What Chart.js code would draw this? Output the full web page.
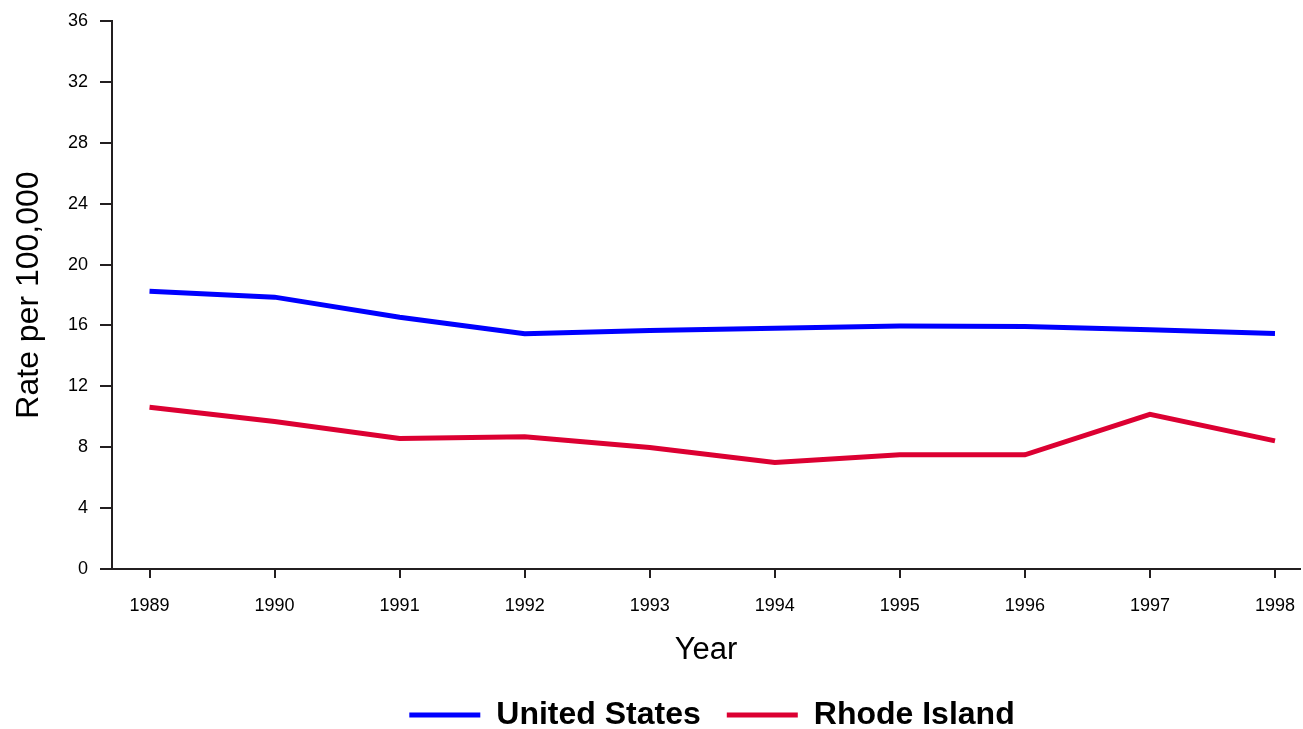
<!DOCTYPE html>
<html lang="en">
<head>
    <meta charset="UTF-8">
    <title>Rate per 100,000</title>
    <script src="https://cdn.jsdelivr.net/npm/chart.js"></script>
    <style>
        html, body { margin: 0; padding: 0; background: #fff; }
        .grafico { width: 1303px; height: 729px; }
    </style>
</head>
<body>
    <div class="grafico">
        <canvas id="graficoTaxa"></canvas>
    </div>
<script>
    const anos = [1989, 1990, 1991, 1992, 1993, 1994, 1995, 1996, 1997, 1998];
    const estadosUnidos = [18.25, 17.86, 16.54, 15.45, 15.66, 15.82, 15.96, 15.93, 15.71, 15.47];
    const rhodeIsland = [10.62, 9.69, 8.58, 8.69, 7.98, 7.0, 7.5, 7.5, 10.16, 8.42];
    const ticksY = [0, 4, 8, 12, 16, 20, 24, 28, 32, 36];

    const fonte = "'Liberation Sans', Arial, sans-serif";
    const corEixo = '#231f20';

    function pontos(valores) {
        return anos.map((a, i) => ({ x: a, y: valores[i] }));
    }

    // empurra a legenda para a direita e um pouco para baixo
    const moverLegenda = {
        id: 'moverLegenda',
        afterLayout(chart) {
            const lg = chart.legend;
            lg.left += 62;
            lg.right += 62;
            lg.top += 4;
            lg.bottom += 4;
        }
    };

    const ctx = document.getElementById('graficoTaxa').getContext('2d');
    new Chart(ctx, {
        type: 'line',
        data: {
            datasets: [
                {
                    label: 'United States',
                    data: pontos(estadosUnidos),
                    borderColor: '#0000ff',
                    backgroundColor: '#0000ff',
                    borderWidth: 5,
                    pointRadius: 0,
                    tension: 0
                },
                {
                    label: 'Rhode Island',
                    data: pontos(rhodeIsland),
                    borderColor: '#dc0032',
                    backgroundColor: '#dc0032',
                    borderWidth: 5,
                    pointRadius: 0,
                    tension: 0
                }
            ]
        },
        plugins: [moverLegenda],
        options: {
            responsive: true,
            maintainAspectRatio: false,
            animation: false,
            layout: { padding: { top: 21, right: 3, left: 0, bottom: -8 } },
            plugins: {
                tooltip: { enabled: false },
                legend: {
                    position: 'bottom',
                    labels: {
                        boxWidth: 71,
                        boxHeight: 5,
                        padding: 26,
                        color: '#000',
                        font: { family: fonte, size: 32, weight: 'bold' },
                        generateLabels: (chart) => {
                            const itens = Chart.defaults.plugins.legend.labels.generateLabels(chart);
                            itens.forEach(it => { it.lineWidth = 0; });
                            return itens;
                        }
                    }
                }
            },
            scales: {
                x: {
                    type: 'linear',
                    min: 1988.7,
                    max: 1998.2,
                    afterBuildTicks: (s) => { s.ticks = anos.map(v => ({ value: v })); },
                    afterFit: (s) => { s.height = 100; s.paddingLeft = 0; s.paddingRight = 0; },
                    grid: { drawOnChartArea: false, tickLength: 9, color: corEixo, lineWidth: 2 },
                    border: { color: corEixo, width: 2 },
                    ticks: {
                        color: '#000',
                        padding: 17,
                        maxRotation: 0,
                        font: { family: fonte, size: 18 },
                        callback: (v) => String(v)
                    },
                    title: {
                        display: true,
                        text: 'Year',
                        color: '#000',
                        padding: { top: 14, bottom: 0 },
                        font: { family: fonte, size: 31 }
                    }
                },
                y: {
                    min: 0,
                    max: 36,
                    afterBuildTicks: (s) => { s.ticks = ticksY.map(v => ({ value: v })); },
                    afterFit: (s) => { s.width = 112; s.paddingTop = 0; s.paddingBottom = 0; },
                    grid: { drawOnChartArea: false, tickLength: 12, color: corEixo, lineWidth: 2 },
                    border: { color: corEixo, width: 2 },
                    ticks: {
                        color: '#000',
                        padding: 12,
                        font: { family: fonte, size: 18 }
                    },
                    title: {
                        display: true,
                        text: 'Rate per 100,000',
                        color: '#000',
                        padding: { top: 10, bottom: 0 },
                        font: { family: fonte, size: 32 }
                    }
                }
            }
        }
    });
</script>
</body>
</html>
